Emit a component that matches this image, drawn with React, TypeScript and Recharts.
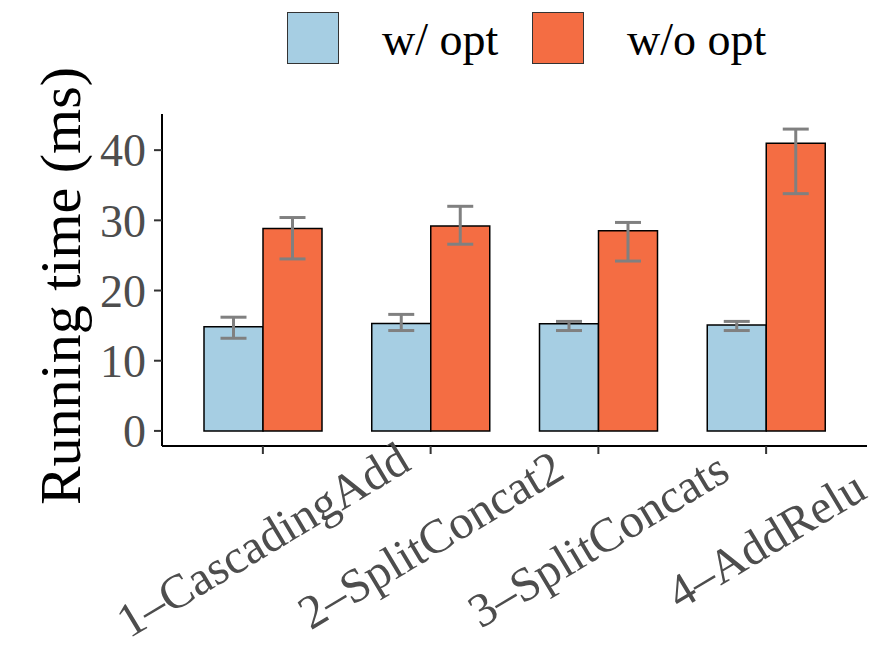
import { BarChart, Bar, XAxis, YAxis, ErrorBar } from "recharts";

// benchmark cases
const categories = ["1–CascadingAdd", "2–SplitConcat2", "3–SplitConcats", "4–AddRelu"];

// running time (ms)
const withOpt = [14.85, 15.3, 15.25, 15.1];
const withOptLow = [13.2, 14.3, 14.3, 14.3];
const withOptHigh = [16.2, 16.6, 15.6, 15.6];

const withoutOpt = [28.85, 29.2, 28.5, 41.0];
const withoutOptLow = [24.5, 26.6, 24.2, 33.8];
const withoutOptHigh = [30.4, 32.0, 29.7, 43.0];

const yTicks = [0, 10, 20, 30, 40];

const BLUE = "#a6cee3";
const ORANGE = "#f46d43";
const FONT = "'Liberation Serif', 'Times New Roman', serif";

const data = categories.map((name, i) => ({
  name,
  w: withOpt[i],
  wErr: [withOpt[i] - withOptLow[i], withOptHigh[i] - withOpt[i]],
  wo: withoutOpt[i],
  woErr: [withoutOpt[i] - withoutOptLow[i], withoutOptHigh[i] - withoutOpt[i]],
}));

// rotated category labels, centred under the tick
const XTick = (props: any) => {
  const { x, y, payload } = props;
  const cy = y + 86;
  return (
    <text
      x={x}
      y={cy}
      dy="0.33em"
      textAnchor="middle"
      fill="#4d4d4d"
      fontSize={48}
      fontFamily={FONT}
      transform={`rotate(-31, ${x}, ${cy})`}
    >
      {payload.value}
    </text>
  );
};

const YLabel = () => (
  <text
    x={80}
    y={286}
    textAnchor="middle"
    fontSize={58}
    fontFamily={FONT}
    fill="#000"
    transform="rotate(-90, 80, 286)"
  >
    Running time (ms)
  </text>
);

const LegendBox = () => (
  <svg width={877} height={80} style={{ position: "absolute", left: 0, top: 0 }}>
    <rect x={287.5} y={12.5} width={51} height={51} fill={BLUE} stroke="#333" strokeWidth={1} />
    <text x={382} y={55} fontSize={46} fontFamily={FONT} fill="#000">
      w/ opt
    </text>
    <rect x={532.5} y={12.5} width={51} height={51} fill={ORANGE} stroke="#333" strokeWidth={1} />
    <text x={627} y={55} fontSize={46} fontFamily={FONT} fill="#000">
      w/o opt
    </text>
  </svg>
);

export default function App() {
  return (
    <div style={{ position: "absolute", left: 0, top: 0, width: 877, height: 646, background: "#fff" }}>
      <BarChart
        width={877}
        height={646}
        data={data}
        margin={{ top: 114, right: 10, bottom: 0, left: 0 }}
        barGap={0}
        barSize={59}
      >
        <XAxis
          dataKey="name"
          height={200}
          padding={{ left: 17, right: 17 }}
          axisLine={{ stroke: "#000", strokeWidth: 2 }}
          tickLine={{ stroke: "#333", strokeWidth: 2 }}
          tickSize={8}
          tickMargin={0}
          interval={0}
          tick={<XTick />}
        />
        <YAxis
          width={162}
          type="number"
          domain={[-2.15, 45.15]}
          allowDataOverflow
          ticks={yTicks}
          axisLine={{ stroke: "#000", strokeWidth: 2 }}
          tickLine={{ stroke: "#333", strokeWidth: 2 }}
          tickSize={8}
          tickMargin={8}
          tick={{ fill: "#4d4d4d", fontSize: 46, fontFamily: FONT }}
          label={{ content: () => <YLabel /> }}
        />
        <Bar dataKey="w" fill={BLUE} stroke="#000" strokeWidth={1.5} isAnimationActive={false}>
          <ErrorBar dataKey="wErr" width={13} stroke="#808080" strokeWidth={3} isAnimationActive={false} />
        </Bar>
        <Bar dataKey="wo" fill={ORANGE} stroke="#000" strokeWidth={1.5} isAnimationActive={false}>
          <ErrorBar dataKey="woErr" width={13} stroke="#808080" strokeWidth={3} isAnimationActive={false} />
        </Bar>
      </BarChart>
      <LegendBox />
    </div>
  );
}
